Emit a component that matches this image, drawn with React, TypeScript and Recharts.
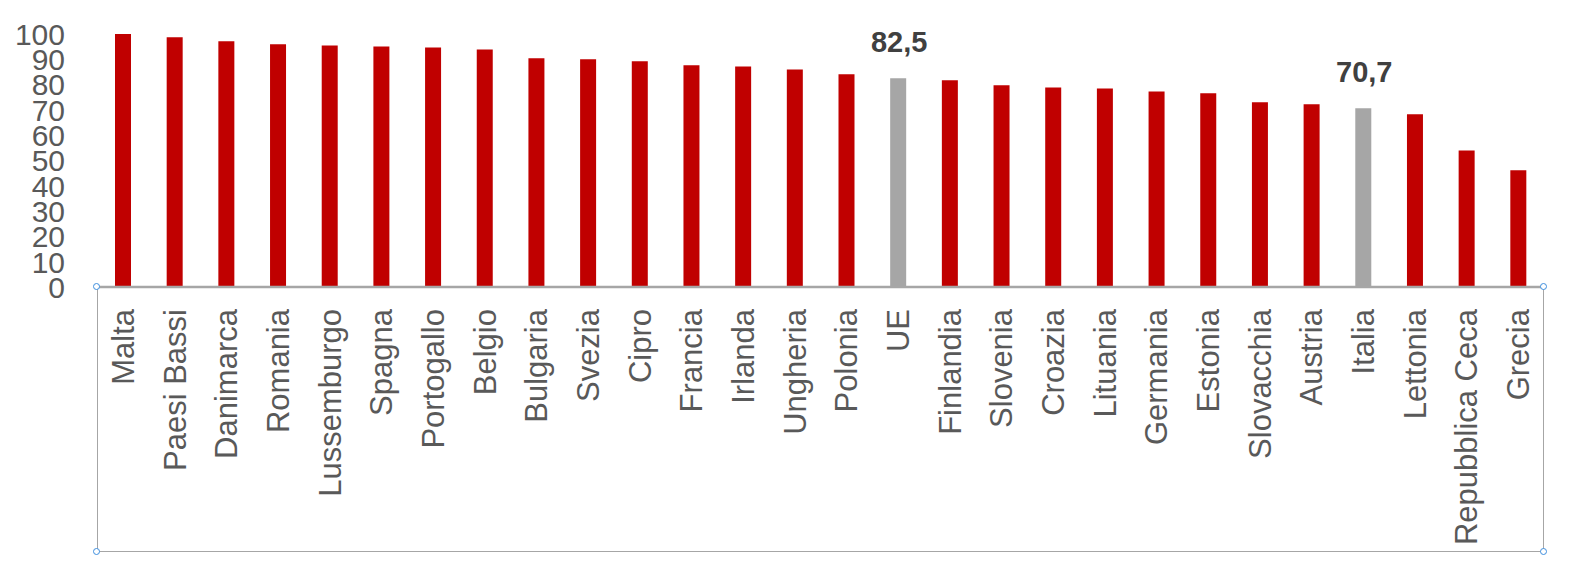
import { BarChart, Bar, XAxis, YAxis, Cell, LabelList } from 'recharts'

const categories = [
  'Malta', 'Paesi Bassi', 'Danimarca', 'Romania', 'Lussemburgo', 'Spagna', 'Portogallo',
  'Belgio', 'Bulgaria', 'Svezia', 'Cipro', 'Francia', 'Irlanda', 'Ungheria', 'Polonia',
  'UE', 'Finlandia', 'Slovenia', 'Croazia', 'Lituania', 'Germania', 'Estonia',
  'Slovacchia', 'Austria', 'Italia', 'Lettonia', 'Repubblica Ceca', 'Grecia',
]
const values = [
  100, 98.7, 97.1, 95.9, 95.5, 95.1, 94.7,
  93.9, 90.4, 90.0, 89.2, 87.6, 87.2, 86.0, 84.1,
  82.5, 81.7, 79.7, 78.9, 78.5, 77.3, 76.6,
  73.0, 72.2, 70.7, 68.3, 54.0, 46.1,
]
const highlighted = ['UE', 'Italia']
const yTicks = [0, 10, 20, 30, 40, 50, 60, 70, 80, 90, 100]

const RED = '#C00000'
const GREY = '#A6A6A6'
const TEXT = '#595959'
const FONT = '"Liberation Sans", Arial, sans-serif'

const data = categories.map((name, i) => ({ name, value: values[i] }))

function CategoryTick({ x, y, payload }: { x?: number; y?: number; payload?: { value: string } }) {
  return (
    <g transform={`translate(${x},${y}) rotate(-90)`}>
      <text x={0} y={0} dy={11} textAnchor="end" fontSize={31} fill={TEXT} fontFamily={FONT}>
        {payload?.value}
      </text>
    </g>
  )
}

function ValueTick({ x, y, payload }: { x?: number; y?: number; payload?: { value: number } }) {
  return (
    <text x={x} y={y} dy="0.36em" textAnchor="end" fontSize={30} fill={TEXT} fontFamily={FONT}>
      {payload?.value}
    </text>
  )
}

function HighlightLabel(props: any) {
  const { x, y, width, value, index } = props
  if (!highlighted.includes(categories[index])) return null
  return (
    <text
      x={Number(x) + Number(width) / 2 + 1}
      y={Number(y) - 26}
      textAnchor="middle"
      fontSize={29}
      fontWeight="bold"
      fill="#404040"
      fontFamily={FONT}
    >
      {String(value).includes('.') ? String(value).replace('.', ',') : `${value},0`}
    </text>
  )
}

function Handle({ left, top }: { left: number; top: number }) {
  return (
    <div style={{
      position: 'absolute', left: left - 4, top: top - 4, width: 5, height: 5,
      borderRadius: '50%', border: '1.5px solid #3E8EDE', background: '#fff',
    }} />
  )
}

export default function App() {
  // plot area bounds, used for the selected-axis box overlay
  const left = 97
  const right = 1544
  const top = 287
  const bottom = 552
  return (
    <div style={{ position: 'fixed', left: 0, top: 0, width: 1573, height: 568, background: '#fff' }}>
      <BarChart
        width={1573}
        height={568}
        data={data}
        margin={{ top: 34, right: 29, left: 0, bottom: 16 }}
      >
        <XAxis
          dataKey="name"
          interval={0}
          height={265}
          tickSize={0}
          tickMargin={22}
          tick={<CategoryTick />}
          axisLine={{ stroke: GREY, strokeWidth: 2.5 }}
        />
        <YAxis
          width={97}
          domain={[0, 100]}
          ticks={yTicks}
          tickSize={0}
          tickMargin={32}
          tick={<ValueTick />}
          axisLine={false}
          tickLine={false}
        />
        <Bar dataKey="value" barSize={16} isAnimationActive={false}>
          {data.map(d => (
            <Cell key={d.name} fill={highlighted.includes(d.name) ? GREY : RED} />
          ))}
          <LabelList dataKey="value" content={<HighlightLabel />} />
        </Bar>
      </BarChart>
      <div style={{
        position: 'absolute', left, top, width: right - left, height: bottom - top,
        borderLeft: `1.5px solid ${GREY}`, borderRight: `1.5px solid ${GREY}`,
        borderBottom: `1.5px solid ${GREY}`, boxSizing: 'border-box', pointerEvents: 'none',
      }} />
      <Handle left={left} top={top} />
      <Handle left={right} top={top} />
      <Handle left={left} top={bottom} />
      <Handle left={right} top={bottom} />
    </div>
  )
}
